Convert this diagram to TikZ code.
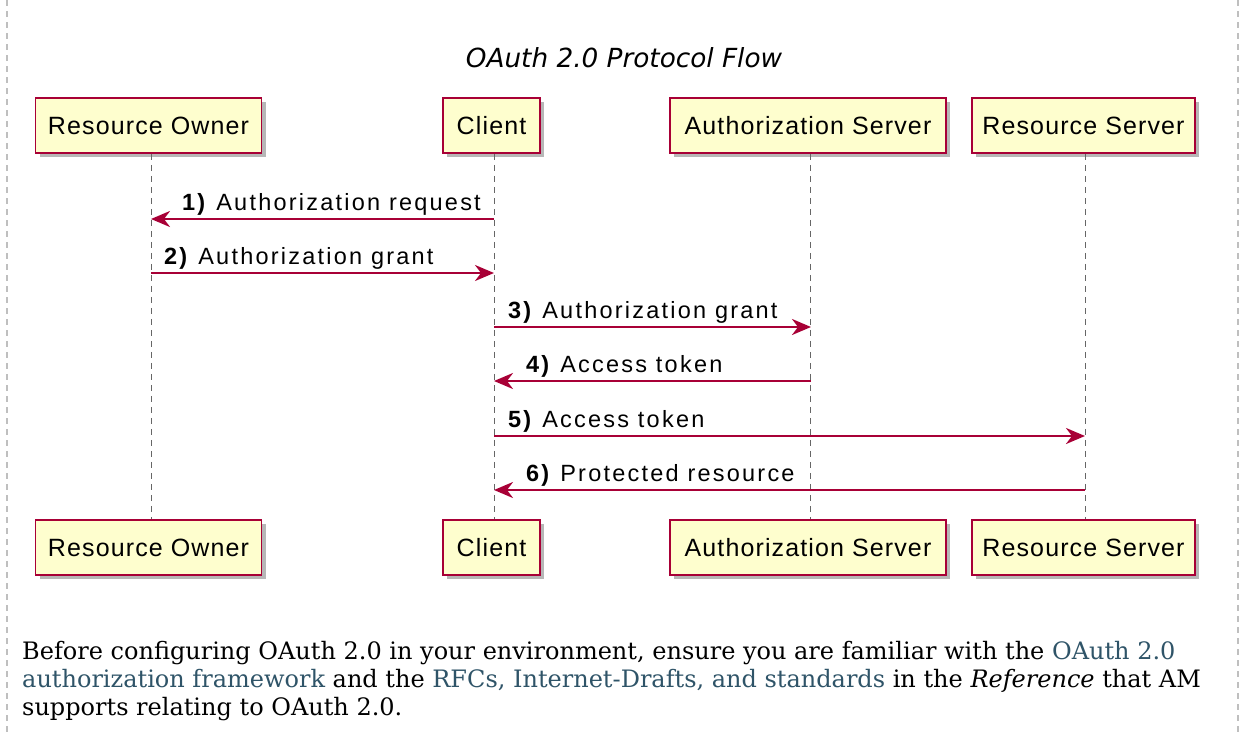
\documentclass[tikz,border=0pt]{standalone}
\usepackage{fontspec}
\setmainfont{DejaVu Serif}
\newfontfamily\partfont[LetterSpace=4.5]{Liberation Sans}
\newfontfamily\msgfont[LetterSpace=9.5]{Liberation Sans}
\newfontfamily\titlefont{DejaVu Sans}
\usetikzlibrary{arrows.meta,shadows}
\definecolor{puRed}{HTML}{A80036}
\definecolor{puFill}{HTML}{FEFECE}
\definecolor{linkc}{HTML}{2F5468}
\tikzset{
  part/.style={draw=puRed, line width=1.8pt, fill=puFill, minimum height=55pt,
    inner sep=0pt, font=\partfont\fontsize{25}{29}\selectfont,
    drop shadow={shadow xshift=4pt, shadow yshift=-4pt, opacity=0.4, fill=black!70}},
  life/.style={draw=black!60, line width=1pt, dash pattern=on 6pt off 5pt},
  msg/.style={draw=puRed, line width=2.5pt, -{Stealth[length=19pt,width=16pt,inset=6pt]}},
  lbl/.style={font=\msgfont\fontsize{23.5}{27}\selectfont, inner sep=0pt, anchor=base west},
  para/.style={font=\fontsize{24}{28}\selectfont, inner sep=0pt, anchor=base west},
  frame/.style={draw=black!25, line width=1.5pt, dash pattern=on 6pt off 5pt},
}
\begin{document}
\begin{tikzpicture}[x=1pt,y=-1pt]
\useasboundingbox (0,0) rectangle (1245,736);
% frame
\coordinate (fl1) at (7,0); \coordinate (fl2) at (7,736);
\coordinate (fr1) at (1238,0); \coordinate (fr2) at (1238,736);
\draw[frame] (fl1) -- (fl2);
\draw[frame] (fr1) -- (fr2);
% title
\node[font=\titlefont\itshape\fontsize{26.3}{30}\selectfont, inner sep=0pt, anchor=base] (title) at (624,67) {OAuth 2.0 Protocol Flow};
% participants
\node[part, minimum width=226pt] (roT) at (148.5,125.5) {Resource Owner};
\node[part, minimum width=97pt]  (cT)  at (491.5,125.5) {Client};
\node[part, minimum width=276pt] (asT) at (808,125.5) {Authorization Server};
\node[part, minimum width=223pt] (rsT) at (1083.5,125.5) {Resource Server};
\node[part, minimum width=226pt] (roB) at (148.5,547.5) {Resource Owner};
\node[part, minimum width=97pt]  (cB)  at (491.5,547.5) {Client};
\node[part, minimum width=276pt] (asB) at (808,547.5) {Authorization Server};
\node[part, minimum width=223pt] (rsB) at (1083.5,547.5) {Resource Server};
% lifelines
\draw[life] ([xshift=2.5pt]roT.south) -- ([xshift=2.5pt]roB.north);
\draw[life] ([xshift=2.5pt]cT.south) -- ([xshift=2.5pt]cB.north);
\draw[life] ([xshift=2.5pt]asT.south) -- ([xshift=2.5pt]asB.north);
\draw[life] ([xshift=1.5pt]rsT.south) -- ([xshift=1.5pt]rsB.north);
% message end points
\coordinate (c1) at (494,219);  \coordinate (ro1) at (151,219);
\coordinate (ro2) at (151,273); \coordinate (c2) at (494,273);
\coordinate (c3) at (494,327);  \coordinate (as3) at (811,327);
\coordinate (as4) at (811,381); \coordinate (c4) at (494,381);
\coordinate (c5) at (494,436);  \coordinate (rs5) at (1085,436);
\coordinate (rs6) at (1085,490); \coordinate (c6) at (494,490);
% messages
\draw[msg] (c1) -- (ro1);
\node[lbl] (l1) at (182,210) {\textbf{1)} Authorization request};
\draw[msg] (ro2) -- (c2);
\node[lbl] (l2) at (164,264) {\textbf{2)} Authorization grant};
\draw[msg] (c3) -- (as3);
\node[lbl] (l3) at (508,318) {\textbf{3)} Authorization grant};
\draw[msg] (as4) -- (c4);
\node[lbl] (l4) at (526,372) {\textbf{4)} Access token};
\draw[msg] (c5) -- (rs5);
\node[lbl] (l5) at (508,427) {\textbf{5)} Access token};
\draw[msg] (rs6) -- (c6);
\node[lbl] (l6) at (526,481) {\textbf{6)} Protected resource};
% paragraph
\node[para] (p1) at (22,659) {Before configuring OAuth 2.0 in your environment, ensure you are familiar with the \textcolor{linkc}{OAuth 2.0}};
\node[para] (p2) at (22,687) {\textcolor{linkc}{authorization framework} and the \textcolor{linkc}{RFCs, Internet-Drafts, and standards} in the \textit{Reference} that AM};
\node[para] (p3) at (22,715) {supports relating to OAuth 2.0.};
\end{tikzpicture}
\end{document}
